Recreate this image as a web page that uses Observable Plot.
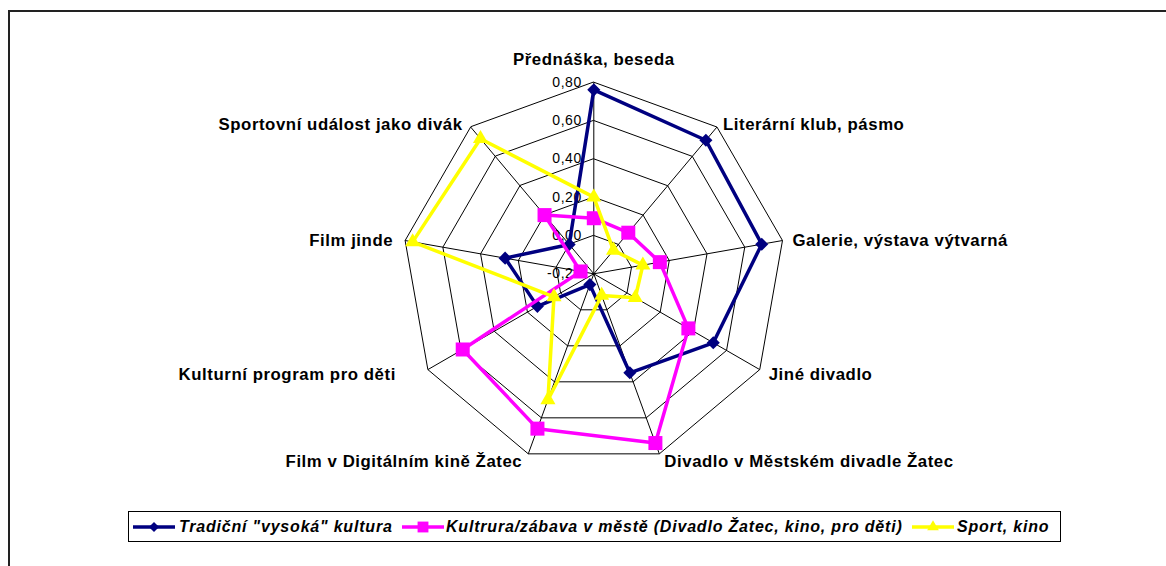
<!DOCTYPE html>
<html><head><meta charset="utf-8">
<script src="https://cdn.jsdelivr.net/npm/d3@7"></script>
<script src="https://cdn.jsdelivr.net/npm/@observablehq/plot@0.6"></script>
<style>
body{margin:0;background:#fff;font-family:"Liberation Sans",Arial,sans-serif;}
#wrap{position:relative;width:1166px;height:566px;overflow:hidden;background:#fff;}
#frame{position:absolute;left:8px;top:10px;width:1300px;height:700px;border:2px solid #222;box-sizing:border-box;}
#chart{position:absolute;left:0;top:0;}
#chart svg{letter-spacing:0.056em;}
#legend{position:absolute;left:128px;top:511px;width:933px;height:31px;border:1px solid #000;box-sizing:border-box;background:#fff;}
.li{position:absolute;top:0;height:29px;line-height:29px;font-size:16px;letter-spacing:0.05em;font-weight:bold;font-style:italic;white-space:nowrap;color:#000;}
.sw{position:absolute;top:8px;}
</style></head><body>
<div id="wrap"><div id="frame"></div><div id="chart"></div><div id="legend"></div></div>
<script>
// ---- data ----
const categories = ["Přednáška, beseda", "Literární klub, pásmo", "Galerie, výstava výtvarná", "Jiné divadlo",
  "Divadlo v Městském divadle Žatec", "Film v Digitálním kině Žatec", "Kulturní program pro děti", "Film jinde",
  "Sportovní událost jako divák"];
const seriesNames = ["Tradiční \"vysoká\" kultura", "Kultrura/zábava v městě (Divadlo Žatec, kino, pro děti)", "Sport, kino"];
const tradicni = [0.76, 0.71, 0.69, 0.52, 0.35, -0.14, 0.14, 0.27, 0.00];
const kultura  = [0.09, 0.08, 0.15, 0.37, 0.74, 0.66, 0.59, -0.13, 0.20];
const sport    = [0.20, -0.04, 0.06, 0.05, -0.08, 0.50, 0.04, 0.76, 0.72];
const tickValues = [-0.2, 0, 0.2, 0.4, 0.6, 0.8];
const tickLabels = ["-0,20", "0,00", "0,20", "0,40", "0,60", "0,80"];

// ---- layout / style ----
const W = 1166, H = 566, cx = 593.3, cy = 273.3, R = 191.6;
const colors = ["#000080", "#FF00FF", "#FFFF00"];
const symbols = [d3.symbolDiamond2, d3.symbolSquare, d3.symbolTriangle];
const symR = [5.9, 7.9, 5.6];
const labelNudge = [
  {dx: 0, dy: -23, a: "middle"}, {dx: 6, dy: -2, a: "start"}, {dx: 10, dy: 0, a: "start"},
  {dx: 9, dy: 5, a: "start"}, {dx: 5, dy: 8, a: "start"}, {dx: -6, dy: 8, a: "end"},
  {dx: -32, dy: 5, a: "end"}, {dx: -12, dy: 0, a: "end"}, {dx: -8, dy: -2, a: "end"}
];

const n = categories.length;
const rMin = tickValues[0];
const ang = i => 2 * Math.PI * i / n;
const polar = (r, i) => ({x: r * Math.sin(ang(i)), y: r * Math.cos(ang(i))});
const seriesValues = [tradicni, kultura, sport];
const seriesData = seriesValues.map((vals, s) => vals.map((v, i) => ({s, i, ...polar(v - rMin, i)})));

const rings = [];
tickValues.slice(1).forEach(t => categories.forEach((c, i) => rings.push({ring: t, ...polar(t - rMin, i)})));
const rOuter = tickValues.at(-1) - rMin;
const spokes = categories.map((c, i) => ({x1: 0, y1: 0, x2: polar(rOuter, i).x, y2: polar(rOuter, i).y}));
const tickData = tickValues.map((t, k) => ({x: 0, y: t - rMin, label: tickLabels[k]}));

const marks = [
  Plot.line(rings, {x: "x", y: "y", z: "ring", curve: "linear-closed", stroke: "#000", strokeWidth: 1}),
  Plot.link(spokes, {x1: "x1", y1: "y1", x2: "x2", y2: "y2", stroke: "#000", strokeWidth: 1}),
  Plot.text(tickData, {x: "x", y: "y", text: "label", textAnchor: "end", dx: -12, fontSize: 14, fill: "#000"}),
  ...categories.map((c, i) => Plot.text([{...polar(rOuter, i), label: c}], {
    x: "x", y: "y", text: "label", textAnchor: labelNudge[i].a, dx: labelNudge[i].dx, dy: labelNudge[i].dy,
    fontSize: 16.8, fontWeight: "bold", fill: "#000"
  }))
];
seriesData.forEach((d, s) => {
  marks.push(Plot.line(d, {x: "x", y: "y", curve: "linear-closed", stroke: colors[s], strokeWidth: 3.5}));
  marks.push(Plot.dot(d, {x: "x", y: "y", symbol: symbols[s], r: symR[s], fill: colors[s], stroke: "none"}));
});

const chart = Plot.plot({
  width: W, height: H, margin: 0,
  x: {domain: [-cx / R, (W - cx) / R], range: [0, W], axis: null},
  y: {domain: [(cy - H) / R, cy / R], range: [H, 0], axis: null},
  style: {fontFamily: "'Liberation Sans', Arial, sans-serif", background: "transparent", overflow: "visible"},
  marks
});
document.getElementById("chart").appendChild(chart);

// ---- legend ----
const legend = document.getElementById("legend");
const legPos = [[4, 50], [273, 317], [783, 828]];
seriesNames.forEach((name, s) => {
  const svg = d3.create("svg").attr("class", "sw").attr("width", 42).attr("height", 14)
    .style("left", legPos[s][0] + "px");
  svg.append("line").attr("x1", 0).attr("x2", 42).attr("y1", 7).attr("y2", 7)
    .attr("stroke", colors[s]).attr("stroke-width", 3.5);
  svg.append("path").attr("transform", "translate(21,7)")
    .attr("d", d3.symbol(symbols[s], Math.PI * symR[s] * symR[s] * 0.6)()).attr("fill", colors[s]);
  legend.appendChild(svg.node());
  const sp = document.createElement("span");
  sp.className = "li"; sp.style.left = legPos[s][1] + "px"; sp.textContent = name;
  legend.appendChild(sp);
});
</script></body></html>
